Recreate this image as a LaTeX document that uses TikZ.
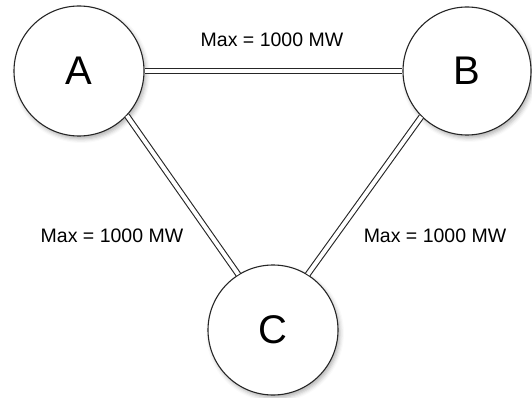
\documentclass[tikz,border=0pt]{standalone}
\usepackage{fontspec}
\setmainfont{Liberation Sans}
\usetikzlibrary{shadows.blur}
\tikzset{
  bus/.style={circle, draw=black!85, line width=1.1pt, fill=white, minimum size=130pt, inner sep=0pt,
    font=\fontsize{40}{42}\selectfont,
    blur shadow={shadow xshift=2pt, shadow yshift=-3pt, shadow blur radius=4pt, shadow opacity=30}},
  line/.style={draw=black!85, line width=1.1pt, double=white, double distance=4pt},
  lbl/.style={font=\fontsize{19.5}{21}\selectfont, text=black, inner sep=0pt}
}
\begin{document}
\begin{tikzpicture}[x=1pt,y=-1pt]
\useasboundingbox (0,0) rectangle (532,398);
\node[bus] (A) at (79,71) {A};
\node[bus, minimum size=128pt] (B) at (467,71) {B};
\node[bus] (C) at (273,330) {C};
\draw[line] (A.east) -- (B.west);
\draw[line] (A.-43) -- (C.122);
\draw[line] (B.225) -- (C.58);
\node[lbl] (l1) at (272,40) {Max = 1000 MW};
\node[lbl] (l2) at (112,236) {Max = 1000 MW};
\node[lbl] (l3) at (435,236) {Max = 1000 MW};
\end{tikzpicture}
\end{document}
